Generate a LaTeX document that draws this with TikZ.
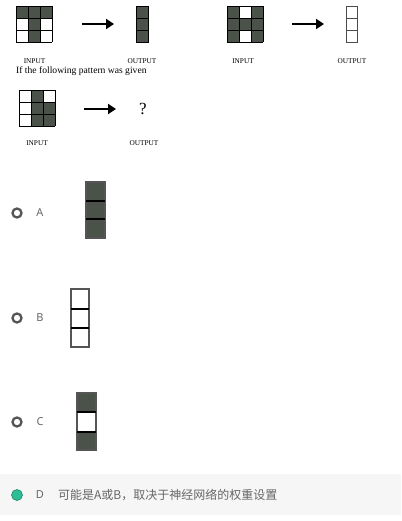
\documentclass[tikz,border=0pt]{standalone}
\usepackage{fontspec}
\setmainfont{Liberation Serif}
\newfontfamily\optfont{Noto Sans}
\newfontfamily\cjk{Noto Sans CJK SC}
\usetikzlibrary{arrows.meta}
\definecolor{cellgray}{HTML}{4B5249}
\definecolor{ringgray}{HTML}{555555}
\definecolor{textgray}{HTML}{666666}
\definecolor{bandgray}{HTML}{F6F6F6}
\definecolor{okgreen}{HTML}{2DBE96}
\tikzset{
  darkcell/.style={fill=cellgray},
  gridline/.style={draw=black, line width=0.9pt},
  bigarrow/.style={line width=2.8pt, -{Triangle[length=8pt,width=10pt]}},
  caption/.style={font=\fontsize{7.3}{8}\selectfont, inner sep=0pt},
  optletter/.style={font=\optfont\fontsize{11}{12}\selectfont, text=textgray, inner sep=0pt},
  radio/.style={draw=ringgray, line width=2.3pt, circle, minimum size=9pt, inner sep=0pt},
  barframe/.style={draw=ringgray, line width=1.2pt},
  sep/.style={draw=black, line width=1.4pt}
}
% 3x3 grid lines: #1=x0, #2=y0, #3=cell size
\newcommand\gridthree[3]{%
  \foreach \k in {0,1,2,3}{%
    \draw[gridline] ({#1+\k*#3},#2) -- ({#1+\k*#3},{#2+3*#3});
    \draw[gridline] (#1,{#2+\k*#3}) -- ({#1+3*#3},{#2+\k*#3});
  }%
}
\begin{document}
\begin{tikzpicture}[x=1pt,y=-1pt]
\useasboundingbox (0,0) rectangle (401,521);
\fill[white] (0,0) rectangle (401,521);
% ---------- example 1 ----------
\fill[cellgray] (16,6) rectangle (52,18);
\fill[cellgray] (28,18) rectangle (40,42);
\gridthree{16}{6}{12}
\fill[cellgray] (136,6) rectangle (148,42);
\draw[gridline] (136,6) rectangle (148,42);
\draw[gridline] (136,18) -- (148,18) (136,30) -- (148,30);
\coordinate (a1s) at (82,24);
\coordinate (a1e) at (114,24);
\draw[bigarrow] (a1s) -- (a1e);
\node[caption] (in1) at (34.5,61) {INPUT};
\node[caption] (out1) at (142,61) {OUTPUT};
\node[font=\fontsize{9.6}{10}\selectfont, inner sep=0pt, anchor=west] (given) at (16,71.5) {If the following pattern was given};
% ---------- example 2 ----------
\fill[cellgray] (227,6) rectangle (263,42);
\fill[white] (239,6) rectangle (251,18);
\fill[white] (239,30) rectangle (251,42);
\gridthree{227}{6}{12}
\draw[line width=0.8pt, draw=black!70] (346,6) rectangle (357,42);
\draw[line width=0.8pt, draw=black!70] (346,18) -- (357,18) (346,30) -- (357,30);
\coordinate (a2s) at (292,24);
\coordinate (a2e) at (324,24);
\draw[bigarrow] (a2s) -- (a2e);
\node[caption] (in2) at (243,61) {INPUT};
\node[caption] (out2) at (352,61) {OUTPUT};
% ---------- question ----------
\fill[cellgray] (31,90) rectangle (43,126);
\fill[cellgray] (43,102) rectangle (55,126);
\gridthree{19}{90}{12}
\coordinate (a3s) at (84,109);
\coordinate (a3e) at (116,109);
\draw[bigarrow] (a3s) -- (a3e);
\node[font=\fontsize{17}{18}\selectfont, inner sep=0pt] (q) at (143,109) {?};
\node[caption] (in3) at (37,143) {INPUT};
\node[caption] (out3) at (144,143) {OUTPUT};
% ---------- option A ----------
\node[radio] (ra) at (17,213) {};
\node[optletter] (la) at (40,213) {A};
\fill[cellgray] (86,182) rectangle (105,238);
\draw[barframe] (86,182) rectangle (105,238);
\draw[sep] (86,201) -- (105,201) (86,219) -- (105,219);
% ---------- option B ----------
\node[radio] (rb) at (17,318) {};
\node[optletter] (lb) at (40,318) {B};
\draw[barframe] (71,289) rectangle (89,347);
\draw[line width=1.1pt] (71,309) -- (89,309);
\draw[line width=1.8pt] (71,328) -- (89,328);
% ---------- option C ----------
\node[radio] (rc) at (17,422) {};
\node[optletter] (lc) at (40,422) {C};
\fill[cellgray] (77,393) rectangle (96,412);
\fill[cellgray] (77,432) rectangle (96,450);
\draw[barframe] (77,393) rectangle (96,450);
\draw[sep] (77,412) -- (96,412) (77,432) -- (96,432);
% ---------- option D ----------
\fill[bandgray] (0,474) rectangle (401,515);
\node[circle, fill=okgreen, draw=okgreen!70!black, line width=0.6pt, minimum size=11pt, inner sep=0pt] (rd) at (17,495) {};
\node[optletter] (ld) at (40,495) {D};
\node[font=\cjk\fontsize{12}{13}\selectfont, text=textgray, inner sep=0pt, anchor=west] (td) at (58,495) {可能是A或B，取决于神经网络的权重设置};
\end{tikzpicture}
\end{document}
